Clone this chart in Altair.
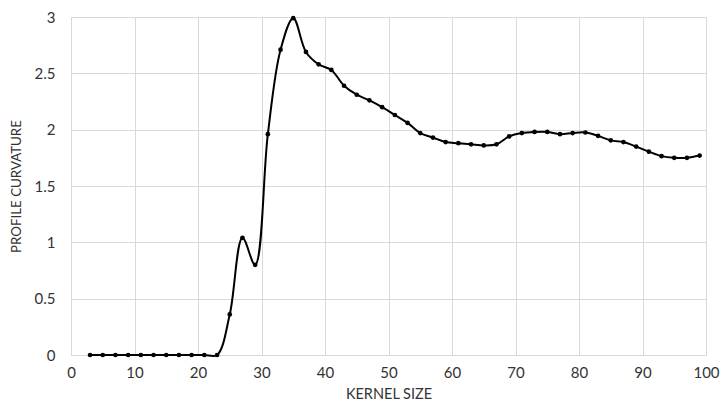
import altair as alt
import pandas as pd

# Kernel sizes (odd values) and the resulting profile curvature
kernel_size = [3, 5, 7, 9, 11, 13, 15, 17, 19, 21, 23, 25, 27, 29, 31, 33, 35, 37, 39, 41,
               43, 45, 47, 49, 51, 53, 55, 57, 59, 61, 63, 65, 67, 69, 71, 73, 75, 77, 79, 81,
               83, 85, 87, 89, 91, 93, 95, 97, 99]
profile_curvature = [0, 0, 0, 0, 0, 0, 0, 0, 0, 0, 0, 0.36, 1.04, 0.80, 1.96, 2.71, 2.99, 2.69, 2.58, 2.53,
                     2.39, 2.31, 2.26, 2.20, 2.13, 2.06, 1.97, 1.93, 1.89, 1.88, 1.87, 1.86, 1.87, 1.94, 1.97,
                     1.98, 1.98, 1.96, 1.97, 1.975, 1.945, 1.905, 1.89, 1.85, 1.805, 1.765, 1.75, 1.75, 1.77]

x_ticks = [0, 10, 20, 30, 40, 50, 60, 70, 80, 90, 100]
y_ticks = [0, 0.5, 1, 1.5, 2, 2.5, 3]

df = pd.DataFrame({"kernel": kernel_size, "curvature": profile_curvature})

FONT = "Lato"
TEXT = "#333333"

x_enc = alt.X(
    "kernel:Q",
    scale=alt.Scale(domain=[0, 100], nice=False),
    axis=alt.Axis(
        values=x_ticks, title="KERNEL SIZE", ticks=False, domain=False,
        labelFlush=False, labelOverlap=False,
        labelPadding=10, titlePadding=7, labelFontSize=15, titleFontSize=14.5,
        labelFont=FONT, titleFont=FONT, labelColor=TEXT, titleColor=TEXT,
        titleFontWeight="normal", gridColor="#d9d9d9", gridWidth=1,
    ),
)
y_enc = alt.Y(
    "curvature:Q",
    scale=alt.Scale(domain=[0, 3], nice=False),
    axis=alt.Axis(
        values=y_ticks, title="PROFILE CURVATURE", ticks=False, domain=False,
        labelFlush=False, labelOverlap=False,
        labelPadding=16, titlePadding=11, labelFontSize=15, titleFontSize=13.3,
        labelFont=FONT, titleFont=FONT, labelColor=TEXT, titleColor=TEXT,
        titleFontWeight="normal", gridColor="#d9d9d9", gridWidth=1,
        labelExpr="datum.value",
    ),
)

line = alt.Chart(df).mark_line(
    color="black", strokeWidth=2, interpolate="catmull-rom", clip=False
).encode(x=x_enc, y=y_enc)

points = alt.Chart(df).mark_point(
    filled=True, color="black", size=22, opacity=1
).encode(x="kernel:Q", y="curvature:Q")

chart = (
    alt.layer(line, points)
    .properties(
        width=635, height=338,
        autosize=alt.AutoSizeParams(type="none"),
        padding={"left": 71, "top": 17, "right": 17, "bottom": 51},
    )
    .configure_view(stroke=None)
    .configure(background="white")
)

chart.save("out.html", embed_options={"renderer": "svg", "actions": False})
